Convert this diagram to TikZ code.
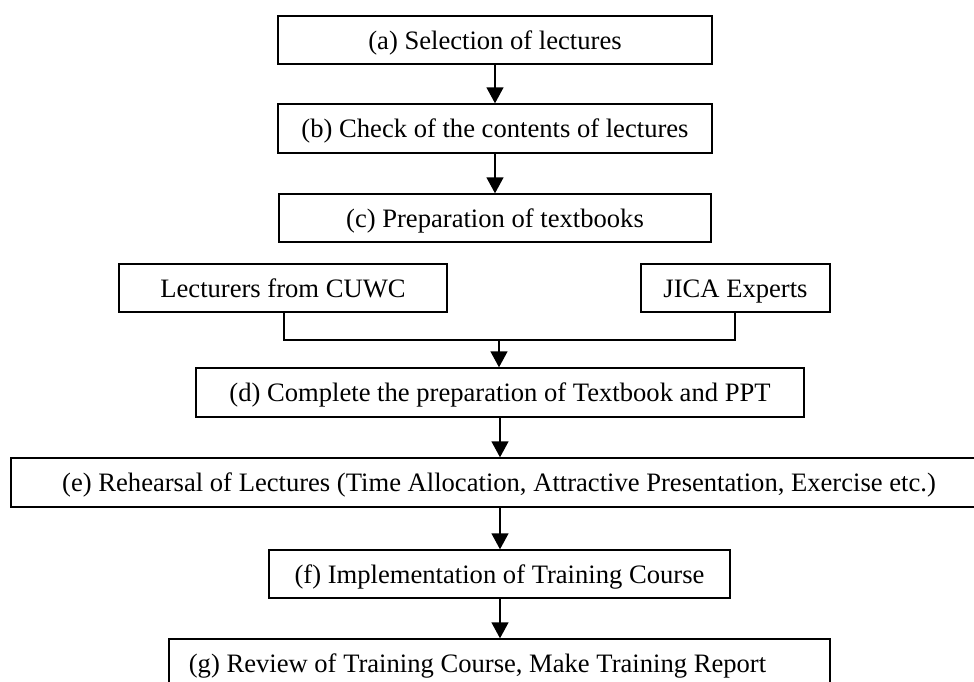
\documentclass[tikz,border=0pt]{standalone}
\usepackage{fontspec}
\setmainfont{Liberation Serif}
\usetikzlibrary{arrows.meta}
\begin{document}
\begin{tikzpicture}[x=1pt,y=-1pt,
  box/.style={draw,line width=1.4pt,rectangle,inner sep=0pt,anchor=center,
    text height=24pt,text depth=6pt,
    font=\fontsize{26.6}{30}\selectfont},
  flow/.style={line width=1.4pt,-{Triangle[width=17pt,length=16pt]}},
  bracket/.style={line width=1.4pt}]
\useasboundingbox (0,0) rectangle (974,681);
% main steps
\node[box,minimum width=434pt,minimum height=48pt] (a) at (495,40) {(a) Selection of lectures};
\node[box,minimum width=434pt,minimum height=49pt] (b) at (495,128.5) {(b) Check of the contents of lectures};
\node[box,minimum width=432pt,minimum height=48pt] (c) at (495,218) {(c) Preparation of textbooks};
% contributors
\node[box,minimum width=328pt,minimum height=48pt] (lec) at (283,288) {Lecturers from CUWC};
\node[box,minimum width=189pt,minimum height=48pt] (jica) at (735.5,288) {JICA Experts};
\node[box,minimum width=608pt,minimum height=49pt] (d) at (500,392.5) {(d) Complete the preparation of Textbook and PPT};
\node[box,minimum width=976pt,minimum height=49pt] (e) at (499,482.5) {(e) Rehearsal of Lectures (Time Allocation, Attractive Presentation, Exercise etc.)};
\node[box,minimum width=461pt,minimum height=48pt] (f) at (499.5,574) {(f) Implementation of Training Course};
% last box: text sits left of centre
\node[box,minimum width=661pt,minimum height=48pt] (g) at (499.5,663) {(g) Review of Training Course, Make Training Report\hspace*{44pt}};
% connectors
\draw[flow] (a.south) -- (b.north);
\draw[flow] (b.south) -- (c.north);
\coordinate (join) at (499,340);
\draw[bracket] (lec.south -| 284,0) |- (join) -| (jica.south -| 735,0);
\draw[flow] (join) -- (d.north -| join);
\draw[flow] (d.south) -- (e.north -| d.south);
\draw[flow] (e.south -| d.south) -- (f.north -| d.south);
\draw[flow] (f.south -| d.south) -- (g.north -| d.south);
\end{tikzpicture}
\end{document}
